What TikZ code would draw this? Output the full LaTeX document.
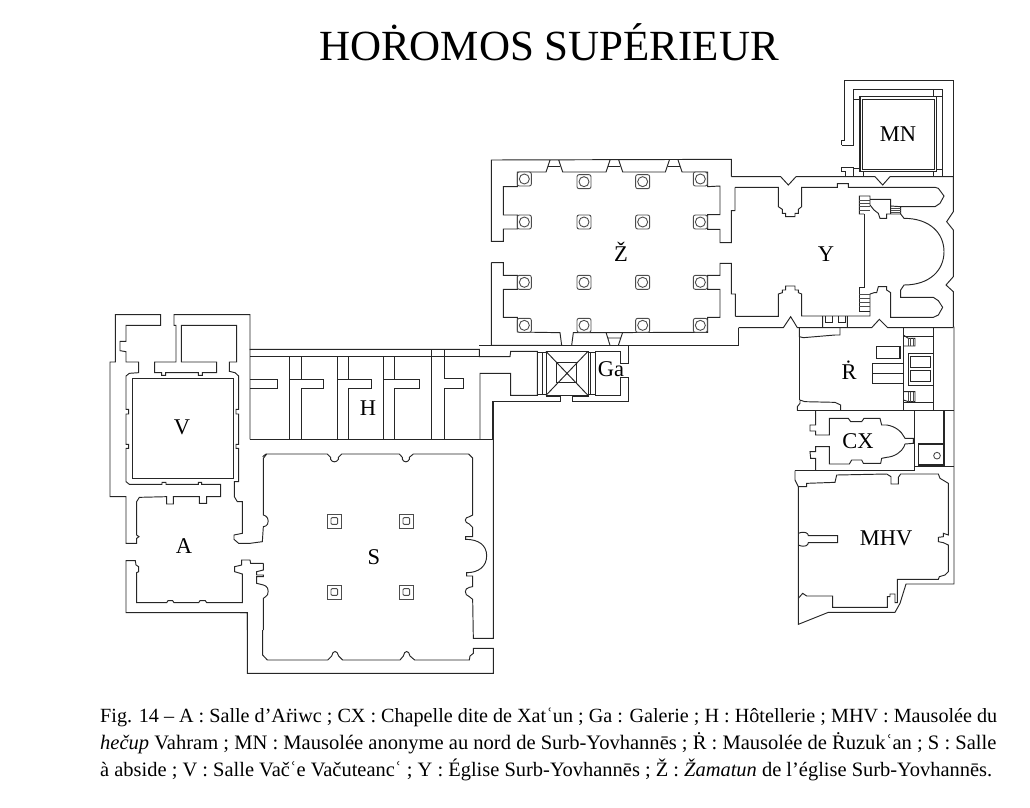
\documentclass[tikz,border=0pt]{standalone}
\usepackage{fontspec}
\setmainfont{Liberation Serif}
\begin{document}
\begin{tikzpicture}[x=1pt,y=-1pt,
                    wallLine/.style={draw,black!85,line width=0.95pt,line join=miter},
                    pierLine/.style={draw,black!70,line width=0.9pt},
                    roomNode/.style={inner sep=0pt,font=\fontsize{22.5}{22}\selectfont},
                    captionNode/.style={anchor=base west,inner sep=0pt},
                    zoomA/.style={shift={(480,70)},scale=1/3},
                    zoomB/.style={shift={(720,70)},scale=1/3},
                    zoomC/.style={shift={(780,320)},scale=1/3},
                    zoomD/.style={shift={(100,300)},scale=1/3},
                    zoomE/.style={shift={(240,340)},scale=1/3},
                    zoomF/.style={shift={(240,440)},scale=1/3}]
  \useasboundingbox (0,0) rectangle (1030,807);
  % Zamatun
  \begin{scope}[zoomA]
    \draw [wallLine] (754,320) -- (754,268) -- (34,270) -- (34,514) -- (70,514) -- (70,477) -- (112,477) -- (112,435) -- (70,435)
      -- (70,350) -- (112,350) -- (112,306) -- (198,306) -- (210,270) (236,270) -- (248,306) -- (378,306) -- (390,270) (416,270) -- (428,306)
      -- (556,306) -- (568,270) (594,270) -- (606,306) -- (683,306) -- (683,350) -- (720,348) -- (720,434) -- (683,434) -- (683,478)
      -- (720,478) -- (720,518) -- (754,518) -- (754,422) -- (765,422) -- (765,352);
    \draw [wallLine] (205,290) -- (241,290) (385,290) -- (421,290) (563,290) -- (599,290);
    \draw [wallLine] (34,578) -- (34,826) -- (245,826) -- (240,788) -- (112,786) -- (112,742) -- (70,742) -- (70,658) -- (112,658) -- (112,616)
      -- (70,616) -- (70,578) -- (34,578);
    \draw [wallLine] (275,826) -- (280,788) -- (683,787) -- (683,742) -- (720,742) -- (720,658) -- (683,658) -- (683,616) -- (720,616)
      -- (720,580) -- (754,580) -- (754,672) -- (766,672) -- (766,739);
    \draw [wallLine] (275,826) -- (776,826) -- (776,773);
    \draw [wallLine] (378,787) -- (390,826) (428,787) -- (415,826) (384,804) -- (422,804);
    \foreach \xPier in {133,312,488,661}
      \foreach \yPier in {327,456,637,766} {
        \pgfmathsetmacro{\yShift}{\yPier==327 && (\xPier==312 || \xPier==488) ? 8 : 0}
        \draw [pierLine,fill=white,rounded corners=2pt] (\xPier-21,\yPier+\yShift-21) rectangle (\xPier+21,\yPier+\yShift+21);
        \draw [pierLine] (\xPier,\yPier+\yShift) circle [radius=15];
      }
  \end{scope}
  % Yovhannes and the mausoleum MN
  \begin{scope}[zoomB]
    \draw [wallLine] (34,320) -- (182,320) -- (205,345) -- (228,320) -- (465,320) -- (488,345) -- (510,320) -- (700,320);
    \draw [wallLine] (365,292) -- (400,292) -- (400,320) (365,292) -- (365,303) -- (375,303) -- (375,320) (400,296) -- (420,296);
    \draw [wallLine] (700,320) -- (700,425) -- (680,455) -- (700,480) -- (700,620) -- (678,645) -- (700,665) -- (700,772);
    \draw [wallLine] (45,352) -- (175,352) -- (175,410) -- (187,418) -- (187,430) -- (197,430) -- (197,440) -- (225,440) -- (225,430) -- (235,430)
      -- (235,418) -- (245,410) -- (245,352) -- (352,352) -- (352,341) -- (385,341) -- (385,352) -- (645,352) -- (655,355) -- (672,378)
      -- (660,400) -- (645,410) -- (542,410) -- (542,432) -- (552,445) .. controls (630,445) and (672,490) .. (672,545)
      .. controls (672,600) and (630,645) .. (552,645) -- (542,660) -- (542,682) -- (640,682) -- (655,692) -- (668,712) -- (655,735) -- (640,742)
      -- (512,742) -- (512,668) -- (500,660) -- (500,650) -- (475,650) -- (470,668) -- (462,668) -- (450,672) -- (450,738) -- (245,738) -- (245,672)
      -- (235,668) -- (235,660) -- (225,660) -- (225,648) -- (197,648) -- (197,660) -- (187,660) -- (187,668) -- (175,672) -- (175,739) -- (46,739);
    \draw [wallLine] (432,432) -- (432,652) -- (418,652) -- (418,724) -- (450,724);
    \draw [wallLine] (432,432) -- (418,432) -- (418,378) -- (450,378) -- (450,405) -- (462,420) -- (475,430) -- (480,445) -- (500,445)
      -- (500,432) -- (512,432) -- (512,408) -- (542,410) (450,388) -- (512,388) -- (512,408) (512,432) -- (542,432);
    \foreach \yStep in {390,400,410,420} \draw [pierLine] (418,\yStep) -- (450,\yStep);
    \foreach \yStep in {672,685,697,710} \draw [pierLine] (418,\yStep) -- (450,\yStep);
    \foreach \yStep in {414,421,428} \draw [pierLine] (512,\yStep) -- (542,\yStep);
    \draw [wallLine] (365,225) -- (365,210) -- (372,210) -- (372,32) -- (700,32) -- (700,320);
    \draw [wallLine] (365,225) -- (400,225) -- (400,58) -- (668,58) -- (668,320);
    \draw [wallLine] (400,88) -- (420,88) (640,58) -- (640,80) (650,80) -- (668,80) (650,298) -- (668,298) (430,305) -- (430,320) (640,305) -- (640,320);
    \draw [wallLine,line width=1.2pt] (420,80) rectangle (650,305);
    \draw [wallLine] (428,88) rectangle (642,298);
    % bottom side, towards R
    \draw [wallLine] (56,773) -- (190,773) -- (212,740) -- (232,773) -- (308,773) -- (308,738) (308,773) -- (382,773) -- (382,738)
      (382,773) -- (455,773) -- (478,748) -- (503,773) -- (700,773);
    \draw [wallLine] (316,738) -- (316,757) -- (338,757) -- (338,738) (354,738) -- (354,757) -- (376,757) -- (376,738);
    \draw [wallLine] (238,773) -- (238,800) -- (250,803) -- (345,795) -- (360,795) -- (360,773);
  \end{scope}
  % R, CX and MHV
  \begin{scope}[zoomC]
    \draw [wallLine] (522,20) -- (522,792) -- (378,792) -- (360,850) -- (345,877) -- (145,877) -- (55,913) -- (55,500);
    \draw [wallLine] (58,40) -- (58,240);
    \draw [wallLine] (52,272) -- (52,260) -- (60,250) -- (60,240) -- (75,245) -- (165,247) -- (182,255) -- (182,272);
    \draw [wallLine] (52,272) -- (522,272);
    \draw [wallLine] (370,22) -- (370,272) (460,22) -- (460,272) (370,48) -- (460,48) (370,248) -- (460,248);
    \draw [wallLine] (370,45) -- (385,55) -- (405,55) -- (405,78) -- (370,78) (370,215) -- (405,215) -- (405,245) -- (385,245) -- (370,240);
    \foreach \xStep in {385,392,399} \draw [pierLine] (\xStep,55) -- (\xStep,78) (\xStep,215) -- (\xStep,245);
    \draw [wallLine,line width=1.4pt] (290,80) rectangle (360,115);
    \draw [wallLine] (370,130) -- (277,130) -- (277,190) -- (370,190) (277,160) -- (370,160);
    \draw [wallLine] (385,100) rectangle (460,195);
    \draw [wallLine] (392,110) rectangle (452,142) (392,152) rectangle (452,185);
    \draw [wallLine] (107,272) -- (107,315) -- (90,315) -- (90,333) -- (107,333) -- (107,345) -- (148,345) -- (148,295) -- (205,295) -- (212,305)
      -- (245,305) -- (252,295) -- (300,295) -- (305,315) -- (320,315) .. controls (345,318) and (365,335) .. (372,350) -- (375,355) -- (400,355) -- (400,370) -- (375,372)
      -- (372,380) .. controls (365,395) and (345,410) .. (320,412) -- (305,415) -- (302,430) -- (250,430) -- (245,420) -- (215,420) -- (208,432) -- (148,432) -- (148,380)
      -- (107,380) -- (107,395) -- (90,395) -- (92,415) -- (107,415) -- (107,452);
    \draw [wallLine] (402,272) -- (402,452) (402,438) -- (522,438);
    \draw [wallLine] (490,272) -- (490,435) (494,272) -- (494,438);
    \draw [wallLine,line width=1.2pt] (415,372) rectangle (490,435);
    \draw [pierLine] (471,407) circle [radius=10];
    \draw [wallLine] (45,452) -- (402,452);
    \draw [wallLine] (45,452) -- (45,480) -- (55,500) -- (80,500) -- (80,490) -- (165,487) -- (170,465) -- (320,462) -- (333,470) -- (333,492)
      -- (355,492) -- (355,472) -- (362,462) -- (475,462) -- (480,475) -- (505,490) -- (505,645) -- (490,640) -- (490,650) -- (475,652) -- (475,665)
      -- (490,668) -- (505,675) -- (505,755) -- (495,765) -- (478,770) -- (475,778) -- (352,778) -- (352,848) -- (345,848) -- (345,822) -- (330,822)
      -- (330,830) -- (322,830) -- (322,862) -- (158,862) -- (158,828) -- (80,828) -- (68,820) -- (55,835);
    \draw [wallLine] (55,640) .. controls (75,632) and (85,640) .. (85,647) -- (173,647) -- (173,668) -- (85,668) .. controls (85,675) and (75,684) .. (55,675);
  \end{scope}
  % V and A
  \begin{scope}[zoomD]
    \draw [wallLine] (182,76) -- (182,44) -- (46,44) -- (46,186) -- (30,186) -- (30,590) -- (78,590) -- (78,730) -- (110,730) -- (110,715)
      -- (117,710) -- (110,705) -- (110,605) -- (118,592) -- (200,590) -- (200,612) -- (220,612) -- (220,590) -- (298,590) -- (298,610) -- (320,610)
      -- (320,590) -- (362,590) -- (362,553) -- (305,553) -- (305,547) -- (295,547) -- (295,553) -- (198,553) -- (198,547) -- (186,547) -- (186,553)
      -- (88,553) -- (78,545) -- (78,445) -- (86,445) -- (86,433) -- (78,433) -- (78,342) -- (86,342) -- (86,328) -- (78,328) -- (78,228) -- (88,220)
      -- (116,218) -- (116,186) -- (78,186) -- (78,155) -- (60,152) -- (60,124) -- (78,124) -- (78,76) -- cycle;
    \draw [wallLine] (98,236) rectangle (400,536);
    \draw [wallLine] (450,150) -- (450,44) -- (222,44) -- (222,76) -- (228,76) -- (228,186) -- (164,186) -- (164,218) -- (185,218) -- (185,226) -- (197,226)
      -- (197,218) -- (295,218) -- (295,226) -- (307,226) -- (307,218) -- (350,218) -- (350,186) -- (244,186) -- (244,76) -- (410,76) -- (410,186) -- (388,186)
      -- (388,214) -- (405,218) -- (416,228) -- (416,328) -- (408,328) -- (408,342) -- (416,342) -- (416,433) -- (408,433) -- (408,445) -- (416,445) -- (416,545)
      -- (403,545) -- (403,590) -- (412,605) -- (427,605) -- (427,700) -- (402,705) -- (402,718) -- (416,730) -- (450,730) -- (487,725) -- (490,680) -- (497,678)
      .. controls (507,675) and (507,652) .. (497,648) -- (490,645) -- (490,475) -- (500,462);
    \draw [wallLine] (490,790) -- (452,790) -- (450,780) -- (425,780) -- (425,795) -- (404,800) -- (404,815) -- (427,822) -- (427,908) -- (320,908) -- (316,902)
      -- (300,902) -- (296,908) -- (222,908) -- (218,902) -- (204,902) -- (200,908) -- (110,908) -- (110,818) -- (116,815) -- (116,800) -- (108,795) -- (106,782)
      -- (78,782) -- (78,938) -- (442,938) -- (442,990);
    \draw [wallLine] (490,790) -- (490,810) -- (470,815) -- (470,825) -- (490,825) -- (490,830) -- (470,830) -- (470,850) -- (490,855) -- (497,858)
      .. controls (507,862) and (507,886) .. (497,890) -- (490,895) -- (490,990);
  \end{scope}
  % H and the gallery
  \begin{scope}[zoomE]
    \draw [wallLine] (30,298) -- (30,28) -- (718,28) -- (718,50) -- (810,50) -- (812,34) -- (892,34) -- (892,166) -- (812,166) -- (812,100) -- (720,100) -- (720,298);
    \draw [wallLine] (30,48) -- (718,48) (30,298) -- (758,298);
    \draw [wallLine] (30,118) -- (112,118) -- (112,145) -- (30,145);
    \foreach \xLeft/\xRight/\xEnd in {148/185/250,292/325/394,430/463/538} {
      \draw [wallLine] (\xLeft,48) -- (\xLeft,298) (\xRight,48) -- (\xRight,118) -- (\xEnd,118) -- (\xEnd,145) -- (\xRight,145) -- (\xRight,298);
      \draw [wallLine] (\xLeft,118) -- (\xRight,118);
    }
    \draw [wallLine] (574,28) -- (574,298) (612,28) -- (612,115) -- (670,115) -- (670,145) -- (612,145) -- (612,298);
    \draw [wallLine] (718,16) -- (1166,16);
    \draw [wallLine] (758,298) -- (758,184) -- (960,184) -- (960,168) -- (918,168);
    \draw [wallLine] (908,38) -- (908,166) (892,38) -- (918,38) (892,162) -- (918,162) (918,34) rectangle (1044,166);
    \draw [wallLine] (1050,38) -- (1050,162) (1044,38) -- (1066,38) (1044,162) -- (1066,162);
    \draw [wallLine] (950,68) rectangle (1010,128);
    \draw [wallLine] (918,34) -- (1044,166) (918,166) -- (1044,34);
    \draw [wallLine] (1066,34) -- (1140,34) -- (1140,70) -- (1166,70) -- (1166,16);
    \draw [wallLine] (1066,34) -- (1066,166) -- (1142,166) -- (1142,112) -- (1166,112) -- (1166,184) -- (997,184) -- (997,168) -- (1046,168);
  \end{scope}
  % S
  \begin{scope}[zoomF]
    \draw [wallLine] (68,570) -- (68,645) -- (82,660) -- (263,660) -- (275,648) .. controls (278,630) and (292,630) .. (296,648) -- (308,660) -- (480,660)
      -- (490,648) .. controls (493,630) and (507,630) .. (510,648) -- (524,660) -- (688,660) -- (690,648) -- (700,640) -- (700,625) -- (760,625)
      -- (760,700) -- (22,700) -- (22,518) -- (0,518);
    \draw [wallLine] (68,50) -- (78,42) -- (262,42) -- (272,52) -- (272,58) .. controls (276,68) and (290,68) .. (295,58) -- (295,52) -- (305,42) -- (478,42)
      -- (487,52) -- (487,58) .. controls (492,68) and (503,68) .. (508,58) -- (508,52) -- (520,42) -- (686,42) -- (698,54) -- (698,225) -- (688,230)
      .. controls (672,232) and (672,248) .. (688,252) -- (698,262) -- (698,290) -- (677,290) -- (677,298) .. controls (715,298) and (740,315) .. (740,347)
      .. controls (740,380) and (715,398) .. (680,398) -- (680,408) -- (698,408) -- (698,440) -- (688,442) .. controls (672,445) and (672,465) .. (688,470)
      -- (698,478) -- (700,595) -- (760,595) -- (760,-116);
    \foreach \xPier in {283,499}
      \foreach \yPier in {243,456} {
        \draw [pierLine] (\xPier-21,\yPier-21) rectangle (\xPier+21,\yPier+21);
        \draw [pierLine,rounded corners=1pt] (\xPier-10,\yPier-10) rectangle (\xPier+10,\yPier+10);
      }
  \end{scope}
  % labels
  \node [roomNode] (labelMN) at (898,134) {MN};
  \node [roomNode] (labelZ) at (621,252) {Ž};
  \node [roomNode] (labelY) at (826,254) {Y};
  \node [roomNode] (labelGa) at (611,369) {Ga};
  \node [roomNode] (labelR) at (849,370) {Ṙ};
  \node [roomNode] (labelH) at (368,408) {H};
  \node [roomNode] (labelV) at (182,427) {V};
  \node [roomNode] (labelCX) at (858,441) {CX};
  \node [roomNode] (labelMHV) at (886,538) {MHV};
  \node [roomNode] (labelA) at (184,546) {A};
  \node [roomNode] (labelS) at (374,557) {S};
  \node [inner sep=0pt,font=\fontsize{43}{43}\selectfont] (titleNode) at (549,42) {HOṘOMOS SUPÉRIEUR};
  \node [captionNode,font=\fontsize{20.15}{20}\selectfont] (captionA) at (100,722) {Fig. 14 – A : Salle d’Aṙiwc ; CX : Chapelle dite de Xatʿun ; Ga : Galerie ; H : Hôtellerie ; MHV : Mausolée du};
  \node [captionNode,font=\fontsize{20.55}{20}\selectfont] (captionB) at (100,749) {\textit{hečup} Vahram ; MN : Mausolée anonyme au nord de Surb-Yovhannēs ; Ṙ : Mausolée de Ṙuzukʿan ; S : Salle};
  \node [captionNode,font=\fontsize{20.45}{20}\selectfont] (captionC) at (100,776) {à abside ; V : Salle Vačʿe Vačuteancʿ ; Y : Église Surb-Yovhannēs ; Ž : \textit{Žamatun} de l’église Surb-Yovhannēs.};
\end{tikzpicture}
\end{document}
